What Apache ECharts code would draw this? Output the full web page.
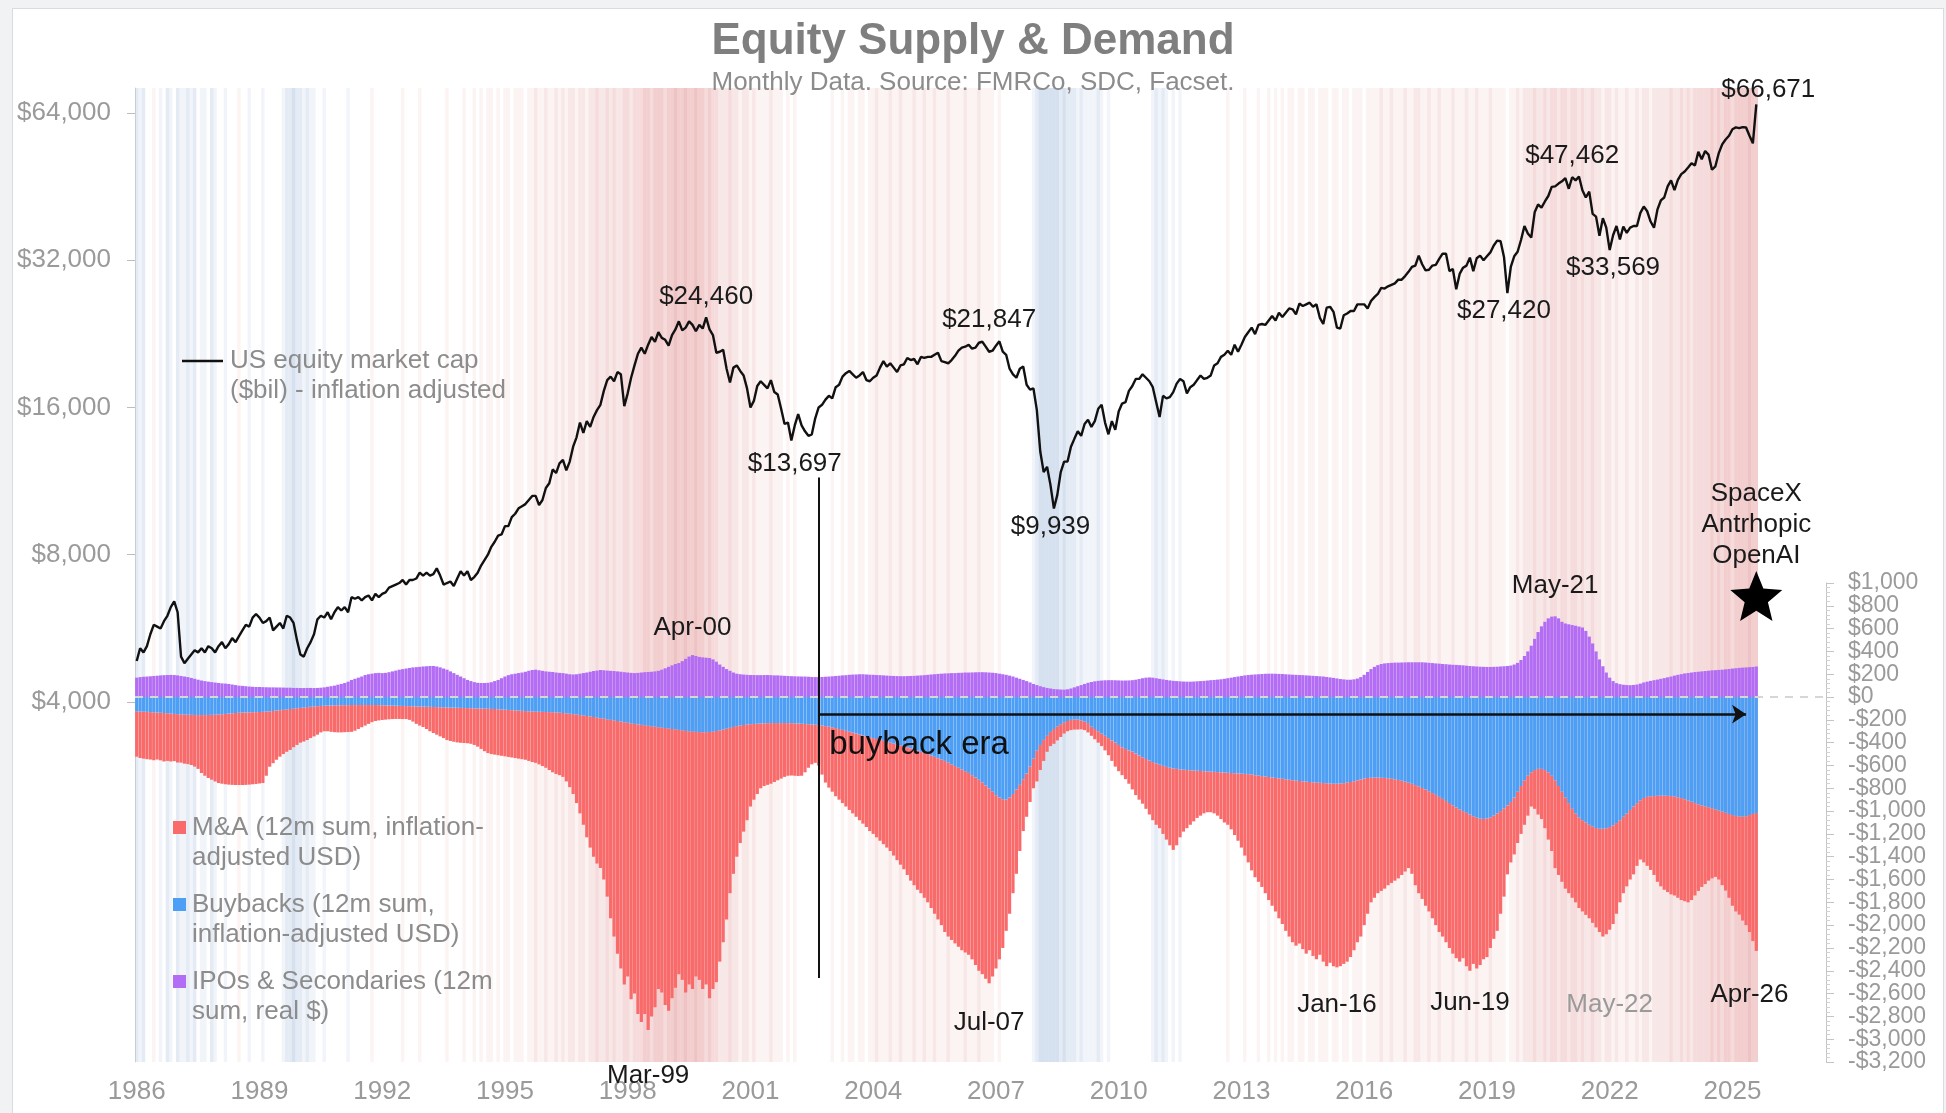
<!DOCTYPE html>
<html><head><meta charset="utf-8">
<script src="https://cdn.jsdelivr.net/npm/echarts@6/dist/echarts.min.js"></script>
<style>
html,body{margin:0;padding:0;background:#f1f2f4;width:1946px;height:1113px;overflow:hidden}
#card{position:absolute;left:12px;top:8px;width:1932px;height:1130px;background:#fff;border:1px solid #d9dbe0;box-sizing:border-box}
#chart{position:absolute;left:0;top:0;width:1946px;height:1113px}
</style></head><body><div id="card"></div><div id="chart"></div>
<script>
// ---------- categories: months Sep-1986 .. Apr-2026 ----------
const months = [];
for (let y = 1986, m = 9; y < 2026 || (y === 2026 && m <= 4);) {
  months.push(y + '-' + String(m).padStart(2, '0'));
  m++; if (m > 12) { m = 1; y++; }
}
const yearLabels = ['1986','1989','1992','1995','1998','2001','2004','2007','2010','2013','2016','2019','2022','2025'];
const leftTicks = [4000, 8000, 16000, 32000, 64000];

// ---------- US equity market cap ($bil, inflation adjusted), monthly ----------
const marketCap = [
 4850,5150,5050,5200,
 5500,5750,5700,5650,5850,6000,6250,6420,6100,4950,4800,4900,
 5000,5100,5050,5150,5050,5200,5150,5050,5200,5300,5150,5250,
 5400,5300,5450,5600,5750,5700,5950,6050,5950,5800,5850,5950,
 5600,5700,5800,5650,6000,5950,5800,5350,5000,4950,5150,5300,
 5500,5900,6000,5950,6100,5900,6100,6250,6150,6250,6100,6550,
 6500,6550,6450,6550,6600,6450,6650,6550,6650,6700,6850,6900,
 6950,7000,7100,6950,7100,7100,7150,7350,7250,7350,7250,7300,
 7500,7250,6950,7000,7050,6900,7150,7400,7250,7400,7100,7200,
 7350,7600,7800,8000,8300,8500,8750,8800,9150,9150,9550,9700,
 9950,10050,10150,10350,10550,10550,10100,10350,10950,11200,11950,11750,
 12300,12500,11900,12400,13300,13900,14900,14200,15000,14600,15300,15800,
 16200,17300,18200,18500,18100,18900,18700,16100,17100,18400,19500,20600,
 21200,20600,21500,22300,21800,22800,22200,22000,21400,22500,23100,24000,
 23000,23300,24000,23600,22900,23600,23200,24460,23100,22500,20700,20800,
 21000,19200,18000,19300,19500,19000,18600,17500,16000,16500,17700,18100,
 17800,17500,18200,17200,17000,15900,14800,14900,13697,14700,15500,14700,
 14300,14000,14100,15200,16000,16200,16600,16900,16700,17600,17800,18500,
 18800,19000,18700,18400,18600,18900,18200,18100,18400,18600,19300,19900,
 19400,19700,19300,18900,19500,19600,20200,20000,20100,19600,20300,20200,
 20300,20300,20500,20700,19900,19800,19700,20000,20400,20900,21200,21300,
 21500,21100,21200,21700,21800,21300,20800,20900,21400,21847,20800,20500,
 19200,18700,18400,19200,19400,17800,17400,17500,15800,13000,11800,12100,
 11100,9939,10600,11800,12400,12400,13300,13800,14300,14000,14800,15100,
 14600,15000,15900,16200,14900,14100,15000,14400,15700,16300,16400,17300,
 17700,18300,18300,18700,18400,18100,17600,16400,15300,16900,16700,16800,
 17200,17900,18300,18100,17100,17600,17800,18200,18600,18300,18400,18600,
 19500,19700,20300,20500,20900,20500,21500,20800,21500,22300,22800,23300,
 22600,23600,23700,23600,24100,24600,24100,25000,24500,25000,25500,25400,
 24800,26100,25800,26000,26200,25700,26000,24400,23700,25600,25700,25100,
 23300,23200,24700,24900,25200,25200,26000,26000,26000,25500,26400,26900,
 27300,28100,28000,28300,28500,28700,29200,29200,29700,30300,31000,31200,
 32700,31400,30500,30600,31200,31300,32200,33000,33000,30400,30700,27900,
 30000,30900,31200,32400,30400,32300,32700,32000,32600,33200,34300,35100,
 35000,32500,27420,31000,32600,33300,35200,37600,36300,35600,40100,41600,
 41000,42200,43300,45200,45300,45900,46400,47100,44800,47300,46600,47462,
 44500,43000,44200,39800,39300,35900,39000,37300,33569,36000,37600,35300,
 37500,36400,37300,37600,37600,40000,41200,40300,38400,37300,40600,42400,
 43000,45300,46600,44500,46700,48000,48600,49500,50500,50000,53300,51500,
 53500,52600,49000,49800,53000,55200,56500,57500,59300,59800,59600,59900,
 59800,57500,55500,66671
];

// ---------- IPOs & Secondaries (12m sum, real $bil) ----------
const ipos = [
 170,175,178,180,
 182,185,187,190,192,193,194,193,190,185,180,175,
 168,160,152,145,140,135,131,127,123,120,118,115,
 110,105,100,98,95,92,90,88,88,87,86,85,
 85,84,84,83,82,82,80,80,79,79,80,80,
 79,80,82,85,90,95,100,108,115,123,135,150,
 160,170,180,193,200,205,210,212,210,212,218,225,
 232,240,245,250,255,260,262,265,268,270,272,272,
 268,260,250,240,225,210,195,180,165,150,140,131,
 125,123,123,125,130,140,150,165,180,192,200,205,
 210,215,222,230,237,240,235,230,225,222,220,215,
 212,210,205,200,198,200,205,210,215,222,228,232,
 237,235,232,230,228,225,222,218,215,212,210,212,
 215,218,220,222,225,230,240,252,265,278,290,298,
 315,335,355,368,360,352,348,345,342,330,310,285,
 265,245,230,215,205,200,197,195,193,193,192,192,
 193,193,192,190,190,188,186,185,183,182,181,180,
 180,178,176,175,175,176,178,180,182,185,187,190,
 192,195,197,198,200,200,198,196,195,193,192,190,
 188,186,185,184,183,183,184,185,186,188,190,192,
 195,198,200,203,205,207,208,210,210,212,213,215,
 215,216,217,218,218,217,215,213,210,205,200,195,
 188,180,170,160,150,140,128,115,105,95,87,80,
 75,70,68,66,65,68,75,85,95,105,115,125,
 132,138,142,145,147,148,148,147,146,145,145,146,
 148,152,158,165,170,172,170,165,160,155,150,146,
 142,140,138,136,135,135,136,138,140,142,145,148,
 150,153,156,160,165,170,175,180,185,190,193,196,
 198,200,202,204,205,205,204,203,202,200,198,196,
 195,193,192,190,188,186,184,182,180,176,172,168,
 163,158,155,152,152,155,162,175,195,220,245,265,
 280,290,295,298,300,302,302,303,304,305,305,305,
 305,305,303,300,298,295,293,290,288,285,283,282,
 280,278,275,272,270,268,266,265,264,264,265,266,
 268,270,272,276,285,300,325,360,400,450,510,570,
 620,660,690,705,708,690,660,645,638,632,625,618,
 610,580,530,470,400,330,270,215,170,140,122,113,
 108,105,104,106,110,118,128,135,142,148,153,160,
 166,173,180,188,195,201,207,211,215,219,222,225,
 228,231,234,236,238,240,243,246,250,253,256,258,
 260,262,264,268
];

// ---------- Buybacks (12m sum, inflation-adjusted $bil) ----------
const buybacks = [
 -125,-127,-128,-130,
 -132,-134,-136,-138,-140,-142,-145,-148,-150,-152,-154,-155,
 -156,-157,-158,-158,-158,-157,-156,-155,-153,-150,-148,-145,
 -142,-140,-138,-136,-135,-134,-133,-132,-131,-130,-128,-125,
 -122,-118,-115,-112,-108,-105,-102,-98,-95,-92,-88,-85,
 -82,-80,-78,-76,-75,-74,-73,-72,-72,-71,-71,-70,
 -70,-70,-70,-70,-70,-70,-70,-71,-72,-73,-74,-75,
 -76,-77,-78,-79,-80,-81,-82,-83,-84,-85,-86,-87,
 -88,-89,-90,-91,-92,-93,-94,-95,-96,-97,-98,-99,
 -100,-101,-102,-103,-104,-105,-107,-109,-111,-113,-115,-117,
 -119,-121,-123,-125,-127,-128,-129,-130,-131,-132,-133,-135,
 -137,-140,-143,-146,-150,-154,-158,-162,-166,-170,-175,-180,
 -185,-190,-195,-200,-205,-210,-215,-220,-225,-230,-235,-240,
 -244,-248,-252,-256,-260,-264,-268,-272,-276,-280,-284,-288,
 -292,-296,-300,-303,-305,-307,-308,-308,-306,-303,-298,-292,
 -285,-278,-270,-262,-255,-249,-245,-241,-238,-236,-234,-232,
 -230,-229,-228,-228,-228,-228,-228,-228,-229,-230,-232,-234,
 -236,-238,-240,-243,-246,-250,-255,-260,-265,-272,-280,-288,
 -296,-304,-312,-320,-328,-336,-344,-352,-360,-368,-376,-384,
 -392,-400,-408,-416,-424,-432,-440,-450,-460,-470,-480,-490,
 -500,-512,-524,-536,-548,-560,-575,-590,-605,-620,-635,-650,
 -665,-685,-705,-725,-750,-775,-800,-830,-860,-880,-895,-900,
 -880,-850,-810,-770,-720,-670,-610,-540,-470,-420,-375,-340,
 -305,-280,-258,-238,-222,-210,-200,-196,-198,-205,-215,-228,
 -260,-280,-300,-320,-340,-360,-380,-400,-420,-440,-455,-468,
 -478,-495,-512,-528,-543,-557,-570,-582,-593,-603,-612,-620,
 -626,-630,-634,-637,-640,-642,-644,-646,-648,-650,-652,-654,
 -656,-658,-660,-662,-664,-666,-668,-670,-672,-674,-676,-678,
 -685,-689,-693,-697,-701,-705,-709,-713,-717,-721,-725,-729,
 -733,-736,-739,-742,-745,-748,-750,-752,-754,-756,-758,-760,
 -760,-758,-755,-750,-745,-738,-730,-722,-715,-710,-707,-706,
 -706,-707,-709,-712,-716,-721,-727,-734,-742,-751,-761,-772,
 -784,-797,-811,-826,-842,-858,-875,-893,-911,-930,-950,-968,
 -985,-1000,-1015,-1030,-1045,-1058,-1066,-1068,-1065,-1055,-1040,-1020,
 -1000,-975,-950,-920,-880,-830,-780,-730,-690,-660,-640,-630,
 -630,-640,-660,-690,-730,-780,-830,-880,-930,-980,-1020,-1055,
 -1080,-1100,-1120,-1135,-1148,-1155,-1155,-1150,-1140,-1125,-1105,-1080,
 -1050,-1020,-990,-960,-930,-905,-885,-875,-870,-868,-866,-865,
 -865,-866,-868,-872,-878,-886,-896,-907,-918,-930,-940,-950,
 -958,-966,-975,-985,-995,-1005,-1015,-1025,-1035,-1042,-1047,-1048,
 -1045,-1035,-1025,-1017
];

// ---------- M&A (12m sum, inflation-adjusted $bil) ----------
const mergers = [
 -398,-408,-412,-415,
 -416,-420,-412,-417,-425,-418,-420,-414,-424,-423,-430,-433,
 -440,-453,-472,-508,-532,-553,-569,-585,-601,-610,-617,-623,
 -628,-631,-633,-635,-635,-634,-632,-630,-627,-624,-562,-486,
 -458,-432,-408,-388,-372,-359,-338,-322,-305,-298,-289,-275,
 -263,-250,-232,-224,-225,-231,-235,-238,-238,-237,-236,-235,
 -225,-210,-195,-180,-165,-150,-140,-134,-129,-125,-121,-118,
 -116,-115,-115,-114,-120,-134,-153,-167,-179,-195,-214,-228,
 -242,-256,-270,-286,-293,-299,-304,-306,-307,-308,-312,-321,
 -335,-354,-373,-388,-396,-400,-403,-406,-409,-412,-415,-418,
 -421,-424,-427,-435,-443,-449,-461,-475,-489,-508,-527,-540,
 -548,-560,-597,-644,-700,-776,-862,-958,-1064,-1150,-1225,-1280,
 -1315,-1410,-1555,-1740,-1895,-2040,-2165,-2300,-2225,-2420,-2365,-2540,
 -2606,-2532,-2668,-2544,-2460,-2296,-2322,-2428,-2474,-2360,-2266,-2142,
 -2188,-2294,-2220,-2257,-2145,-2173,-2252,-2212,-2334,-2257,-2202,-2028,
 -1865,-1672,-1450,-1288,-1145,-1031,-935,-839,-722,-664,-616,-568,
 -550,-541,-532,-517,-502,-487,-472,-462,-459,-460,-460,-456,
 -424,-382,-350,-334,-354,-430,-495,-534,-565,-598,-620,-642,
 -664,-686,-708,-730,-752,-774,-796,-823,-840,-862,-884,-906,
 -928,-950,-982,-1014,-1046,-1078,-1120,-1160,-1190,-1220,-1240,-1270,
 -1300,-1338,-1376,-1414,-1452,-1500,-1525,-1540,-1555,-1570,-1585,-1590,
 -1595,-1615,-1645,-1675,-1680,-1695,-1710,-1620,-1520,-1420,-1305,-1150,
 -1020,-870,-740,-580,-455,-380,-310,-260,-270,-220,-185,-140,
 -125,-130,-122,-112,-98,-90,-90,-89,-87,-78,-75,-82,
 -80,-90,-100,-110,-128,-150,-180,-210,-230,-245,-265,-292,
 -332,-365,-388,-407,-437,-473,-510,-538,-557,-597,-638,-680,
 -714,-670,-596,-543,-510,-478,-446,-414,-392,-370,-358,-356,
 -364,-382,-410,-438,-456,-494,-542,-590,-648,-716,-774,-842,
 -895,-931,-972,-1023,-1079,-1125,-1171,-1227,-1273,-1329,-1375,-1421,
 -1447,-1424,-1471,-1508,-1475,-1522,-1550,-1508,-1566,-1604,-1572,-1600,
 -1610,-1602,-1585,-1570,-1535,-1482,-1420,-1378,-1285,-1190,-1093,-1054,
 -1014,-993,-971,-938,-914,-889,-863,-826,-788,-749,-789,-878,
 -936,-973,-1019,-1054,-1098,-1142,-1185,-1207,-1239,-1270,-1300,-1322,
 -1335,-1290,-1345,-1370,-1295,-1322,-1284,-1232,-1215,-1145,-1080,-1030,
 -900,-775,-605,-530,-500,-450,-420,-390,-350,-300,-340,-400,
 -440,-510,-590,-660,-770,-780,-790,-800,-790,-780,-780,-795,
 -800,-810,-820,-845,-872,-905,-945,-930,-900,-865,-795,-720,
 -670,-640,-610,-595,-550,-520,-565,-605,-646,-692,-754,-795,
 -825,-844,-862,-868,-882,-894,-894,-893,-862,-810,-760,-715,
 -682,-644,-615,-592,-605,-645,-682,-735,-795,-838,-861,-912,
 -955,-1025,-1115,-1209
];

// ---------- background stripe level per month (+ red, - blue) ----------
const shadeLevels = [
 -2,-1,-2,0,
 0,1,0,-1,0,-2,-1,0,-2,-1,-1,-2,
 -1,-2,0,-1,-1,0,-2,-1,0,0,-1,0,
 0,0,1,0,0,-1,0,0,0,-1,0,0,
 0,0,0,-1,-2,-2,-3,-2,-2,-1,-2,-1,
 -1,0,0,-1,0,0,0,0,0,0,-1,0,
 0,0,0,0,0,1,0,0,0,0,0,0,
 0,0,1,0,0,0,0,1,0,0,0,0,
 0,0,0,1,0,0,0,0,1,0,0,1,
 0,1,0,1,1,0,1,0,1,1,0,1,
 1,1,0,1,1,2,1,1,2,1,1,2,
 1,2,1,2,2,1,2,2,1,2,2,3,
 2,2,3,2,3,2,2,3,3,2,3,3,
 3,4,4,3,4,4,4,3,4,4,5,4,
 4,5,4,4,5,4,4,3,4,3,3,2,
 2,2,3,2,2,1,2,2,1,2,1,1,
 1,1,2,1,1,1,0,1,0,1,0,0,
 0,0,0,0,0,0,0,0,1,0,0,1,
 0,1,1,0,1,1,0,1,1,2,1,1,
 1,2,1,1,2,1,1,1,2,1,1,2,
 1,1,2,1,1,1,2,1,1,1,1,2,
 1,1,1,2,1,1,1,1,0,1,0,0,
 0,0,0,0,0,0,0,-1,-2,-3,-3,-3,
 -3,-3,-3,-2,-3,-2,-2,-2,-1,-2,-1,-1,
 -1,-1,-2,-1,0,-1,0,0,0,0,0,0,
 0,0,0,0,0,0,-1,-2,-1,-2,-1,0,
 -1,0,-1,0,0,0,0,0,0,0,0,0,
 0,0,0,0,1,0,0,0,0,1,0,0,
 0,1,0,0,1,0,1,0,1,0,1,1,
 0,1,1,0,1,1,0,1,1,1,0,1,
 1,0,1,1,0,1,1,1,0,1,1,1,
 1,2,1,1,2,1,1,1,2,1,1,2,
 2,1,1,2,1,1,2,1,1,1,2,1,
 1,1,2,1,1,2,1,1,1,2,1,1,
 1,1,0,1,1,2,1,2,2,2,3,2,
 2,3,2,3,3,2,3,3,2,3,3,2,
 3,2,2,3,2,2,1,2,2,1,2,1,
 1,2,1,1,2,1,2,2,1,2,2,2,
 2,2,3,2,2,3,2,3,2,3,3,3,
 3,3,4,3,4,3,4,4,3,4,4,4,
 4,5,4,4
];

// ---------- annotations ----------
// [month, value (left log axis), text]
const capNotes = [
 ['2000-08', 26900, '$24,460'],
 ['2007-07', 24150, '$21,847'],
 ['2002-10', 12260, '$13,697'],
 ['2009-01', 9117, '$9,939'],
 ['2021-10', 52280, '$47,462'],
 ['2020-02', 25200, '$27,420'],
 ['2022-10', 30850, '$33,569'],
 ['2026-04', 9203, 'SpaceX\nAntrhopic\nOpenAI']
];
// [month, value (right axis), text, colour]
const flowNotes = [
 ['2000-04', 605, 'Apr-00', '#1a1a1a'],
 ['2021-05', 973, 'May-21', '#1a1a1a'],
 ['2007-07', -2857, 'Jul-07', '#1a1a1a'],
 ['2016-01', -2700, 'Jan-16', '#1a1a1a'],
 ['2019-04', -2682, 'Jun-19', '#1a1a1a'],
 ['2022-09', -2700, 'May-22', '#9a9a9a'],
 ['2026-02', -2612, 'Apr-26', '#1a1a1a']
];

const FONT = '"Liberation Sans", Arial, Helvetica, sans-serif';
const G_LEFT = 135, G_RIGHT = 188, RIGHT_OFFSET = 68;

function shadeColor(l) {
  if (l > 0) return 'rgba(212,100,100,' + (0.078 * l).toFixed(3) + ')';
  if (l < 0) return 'rgba(95,138,198,' + (0.085 * -l).toFixed(3) + ')';
  return 'rgba(255,255,255,0)';
}
const money = v => (v < 0 ? '-$' : '$') + Math.abs(Math.round(v)).toLocaleString('en-US');
const hidden = { color: 'rgba(0,0,0,0)' };
const noteLabel = (text, color, size) => ({ show: true, position: 'inside', formatter: text, color: color, fontSize: size || 26, fontFamily: FONT, lineHeight: 31 });

const capMarks = capNotes.map(([c, v, t]) => ({ coord: [c, v], symbol: 'circle', symbolSize: 1, itemStyle: hidden, label: noteLabel(t, '#1a1a1a') }));
capMarks.push({ coord: ['2026-04', 70500], symbol: 'circle', symbolSize: 1, itemStyle: hidden,
  label: Object.assign(noteLabel('$66,671', '#1a1a1a'), { offset: [12, -3] }) });
capMarks.push({ coord: ['2026-04', 6588], symbol: 'path://M12,0.6L15.1,8.3L23.4,8.9L17.1,14.3L19.1,22.4L12,18L4.9,22.4L6.9,14.3L0.6,8.9L8.9,8.3Z',
  symbolSize: [52, 50], itemStyle: { color: '#000' }, label: { show: false } });

const flowMarks = flowNotes.map(([c, v, t, col]) => ({ coord: [c, v], symbol: 'circle', symbolSize: 1, itemStyle: hidden, label: noteLabel(t, col) }));
flowMarks.push({ coord: ['1999-03', -3200], symbol: 'circle', symbolSize: 1, itemStyle: hidden,
  label: Object.assign(noteLabel('Mar-99', '#1a1a1a'), { offset: [0, 14] }) });
flowMarks.push({ coord: ['2003-05', -420], symbol: 'circle', symbolSize: 1, itemStyle: hidden,
  label: { show: true, position: 'right', distance: 10, formatter: 'buyback era', color: '#111', fontSize: 33, fontFamily: FONT } });

const chart = echarts.init(document.getElementById('chart'), null, { renderer: 'canvas' });
const option = {
  animation: false,
  backgroundColor: 'transparent',
  textStyle: { fontFamily: FONT },
  title: {
    text: 'Equity Supply & Demand',
    subtext: 'Monthly Data. Source: FMRCo, SDC, Facset.',
    left: 'center', top: 12, itemGap: 1,
    textStyle: { fontSize: 44, fontWeight: 'bold', color: '#7f7f7f', fontFamily: FONT, lineHeight: 50 },
    subtextStyle: { fontSize: 26, color: '#8c8c8c', fontFamily: FONT, lineHeight: 30 }
  },
  grid: [
    { left: G_LEFT, right: G_RIGHT, top: 88, bottom: 51 },
    { left: G_LEFT, right: G_RIGHT, top: 583, bottom: 51 }
  ],
  xAxis: [
    { type: 'category', gridIndex: 0, data: months, boundaryGap: true,
      axisLine: { show: false }, axisTick: { show: false },
      axisLabel: { interval: (i) => i % 36 === 0, formatter: (v, i) => yearLabels[Math.round(i / 36)] || '',
        color: '#9a9a9a', fontSize: 26, margin: 17, fontFamily: FONT } },
    { type: 'category', gridIndex: 1, data: months, boundaryGap: true, show: false }
  ],
  yAxis: [
    { type: 'log', logBase: 2, gridIndex: 0, min: 734, max: 72000, position: 'left',
      axisLine: { show: true, lineStyle: { color: '#dddddd' } },
      axisTick: { show: true, length: 8, customValues: leftTicks, lineStyle: { color: '#bdbdbd' } },
      axisLabel: { customValues: leftTicks, formatter: v => money(v), color: '#9a9a9a', fontSize: 26, margin: 24, fontFamily: FONT },
      splitLine: { show: false }, minorTick: { show: false }, minorSplitLine: { show: false } },
    { type: 'value', gridIndex: 0, min: 0, max: 1, show: false },
    { type: 'value', gridIndex: 1, min: -3200, max: 1000, interval: 200, position: 'right', offset: RIGHT_OFFSET,
      axisLine: { show: true, lineStyle: { color: '#c4c4c4' } },
      axisTick: { show: true, length: 8, lineStyle: { color: '#c4c4c4' } },
      minorTick: { show: true, splitNumber: 5, length: 4, lineStyle: { color: '#d2d2d2' } },
      axisLabel: { formatter: v => money(v), color: '#9a9a9a', fontSize: 23, margin: 22, fontFamily: FONT },
      splitLine: { show: false } }
  ],
  series: [
    { name: 'shade', type: 'bar', xAxisIndex: 0, yAxisIndex: 1, silent: true, z: 0,
      barCategoryGap: '0%', data: shadeLevels.map(l => ({ value: 1, itemStyle: { color: shadeColor(l) } })) },
    { name: 'Buybacks', type: 'bar', xAxisIndex: 1, yAxisIndex: 2, stack: 'flow', data: buybacks, z: 3,
      barCategoryGap: '6%', itemStyle: { color: '#4d9ff5' }, silent: true,
      markLine: { silent: true, symbol: ['none', 'arrow'], symbolSize: 14, label: { show: false },
        lineStyle: { color: '#111', width: 2.5, type: 'solid' },
        data: [[{ coord: ['2003-05', -150] }, { coord: ['2026-01', -150] }]] } },
    { name: 'M&A', type: 'bar', xAxisIndex: 1, yAxisIndex: 2, stack: 'flow', data: mergers, z: 2,
      barCategoryGap: '6%', itemStyle: { color: '#f96b6b' }, silent: true },
    { name: 'IPOs & Secondaries', type: 'bar', xAxisIndex: 1, yAxisIndex: 2, stack: 'flow', data: ipos, z: 2,
      barCategoryGap: '6%', itemStyle: { color: '#b36df5' }, silent: true,
      markPoint: { silent: true, data: flowMarks } },
    { name: 'US equity market cap', type: 'line', xAxisIndex: 0, yAxisIndex: 0, data: marketCap, z: 6,
      symbol: 'none', lineStyle: { color: '#111', width: 2.4 }, silent: true,
      markPoint: { silent: true, data: capMarks },
      markLine: { silent: true, symbol: ['none', 'none'], label: { show: false },
        lineStyle: { color: '#111', width: 2, type: 'solid' },
        data: [[{ coord: ['2003-05', 11500] }, { coord: ['2003-05', 1090] }]] } }
  ]
};
chart.setOption(option);

// zero reference line (dashed) and legends
const y0 = chart.convertToPixel({ yAxisIndex: 2 }, 0);
const gridRightX = 1946 - G_RIGHT;
const legendText = (x, y, t) => ({ type: 'text', x: x, y: y, silent: true, z: 100,
  style: { text: t, fill: '#8c8c8c', font: '26px ' + FONT, lineHeight: 30, verticalAlign: 'top', align: 'left' } });
chart.setOption({
  graphic: [
    { type: 'line', silent: true, z: 100, shape: { x1: G_LEFT, y1: y0, x2: gridRightX + RIGHT_OFFSET, y2: y0 },
      style: { stroke: '#d6d6d6', lineWidth: 2, lineDash: [8, 7] } },
    { type: 'line', silent: true, z: 100, shape: { x1: 182, y1: 361, x2: 223, y2: 361 }, style: { stroke: '#111', lineWidth: 2.4 } },
    legendText(230, 346, 'US equity market cap\n($bil) - inflation adjusted'),
    { type: 'rect', silent: true, z: 100, shape: { x: 173, y: 821, width: 13, height: 13 }, style: { fill: '#f96b6b' } },
    legendText(192, 813, 'M&A (12m sum, inflation-\nadjusted USD)'),
    { type: 'rect', silent: true, z: 100, shape: { x: 173, y: 898, width: 13, height: 13 }, style: { fill: '#4d9ff5' } },
    legendText(192, 890, 'Buybacks (12m sum,\ninflation-adjusted USD)'),
    { type: 'rect', silent: true, z: 100, shape: { x: 173, y: 975, width: 13, height: 13 }, style: { fill: '#b36df5' } },
    legendText(192, 967, 'IPOs & Secondaries (12m\nsum, real $)')
  ]
});
if ([marketCap, ipos, buybacks, mergers, shadeLevels].some(a => a.length !== months.length)) {
  console.error('length mismatch', months.length, marketCap.length, ipos.length, buybacks.length, mergers.length, shadeLevels.length);
}
</script></body></html>
